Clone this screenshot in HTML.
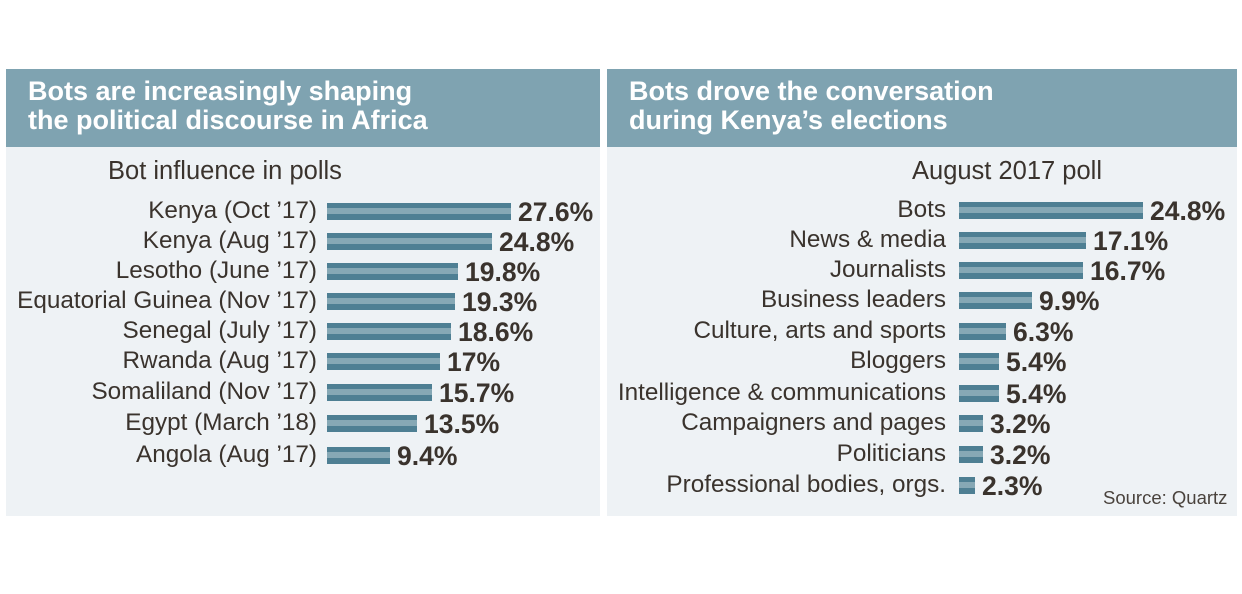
<!DOCTYPE html>
<html><head><meta charset="utf-8"><style>
*{margin:0;padding:0;box-sizing:border-box}
body{width:1242px;height:594px;background:#fff;position:relative;font-family:"Liberation Sans",sans-serif;color:#3a332d;overflow:hidden}
.panel{position:absolute;top:69px;height:447px;background:#eef2f5}
.hdr{position:absolute;left:0;right:0;top:0;height:78px;background:#7fa3b1;color:#fff;font-weight:bold;font-size:27px;line-height:29px;padding:8px 0 0 22px}
.sub{position:absolute;font-size:25.5px}
.lab{position:absolute;font-size:24.3px;text-align:right;white-space:nowrap;line-height:24px}
.bar{position:absolute;height:17px;background:linear-gradient(#4e7f93 0,#4e7f93 5px,#86a8b5 5px,#86a8b5 11px,#4e7f93 11px)}
.val{position:absolute;font-size:26.5px;font-weight:bold;line-height:24px;white-space:nowrap}
</style></head><body>
<div class="panel" style="left:6px;width:594px">
<div class="hdr">Bots are increasingly shaping<br>the political discourse in Africa</div>
</div>
<div class="panel" style="left:607px;width:630px">
<div class="hdr">Bots drove the conversation<br>during Kenya’s elections</div>
</div>
<div class="sub" style="left:108px;top:157px">Bot influence in polls</div>
<div class="sub" style="left:912px;top:157px">August 2017 poll</div>

<!-- left -->
<div class="lab" style="right:925px;top:199px">Kenya (Oct ’17)</div><div class="bar" style="left:327px;top:203px;width:184px"></div><div class="val" style="left:518px;top:200px">27.6%</div>
<div class="lab" style="right:925px;top:229px">Kenya (Aug ’17)</div><div class="bar" style="left:327px;top:233px;width:165px"></div><div class="val" style="left:499px;top:230px">24.8%</div>
<div class="lab" style="right:925px;top:259px">Lesotho (June ’17)</div><div class="bar" style="left:327px;top:263px;width:131px"></div><div class="val" style="left:465px;top:260px">19.8%</div>
<div class="lab" style="right:925px;top:289px">Equatorial Guinea (Nov ’17)</div><div class="bar" style="left:327px;top:293px;width:128px"></div><div class="val" style="left:462px;top:290px">19.3%</div>
<div class="lab" style="right:925px;top:319px">Senegal (July ’17)</div><div class="bar" style="left:327px;top:323px;width:124px"></div><div class="val" style="left:458px;top:320px">18.6%</div>
<div class="lab" style="right:925px;top:349px">Rwanda (Aug ’17)</div><div class="bar" style="left:327px;top:353px;width:113px"></div><div class="val" style="left:447px;top:350px">17%</div>
<div class="lab" style="right:925px;top:380px">Somaliland (Nov ’17)</div><div class="bar" style="left:327px;top:384px;width:105px"></div><div class="val" style="left:439px;top:381px">15.7%</div>
<div class="lab" style="right:925px;top:411px">Egypt (March ’18)</div><div class="bar" style="left:327px;top:415px;width:90px"></div><div class="val" style="left:424px;top:412px">13.5%</div>
<div class="lab" style="right:925px;top:443px">Angola (Aug ’17)</div><div class="bar" style="left:327px;top:447px;width:63px"></div><div class="val" style="left:397px;top:444px">9.4%</div>

<!-- right -->
<div class="lab" style="right:296px;top:198px">Bots</div><div class="bar" style="left:959px;top:202px;width:184px"></div><div class="val" style="left:1150px;top:199px">24.8%</div>
<div class="lab" style="right:296px;top:228px">News &amp; media</div><div class="bar" style="left:959px;top:232px;width:127px"></div><div class="val" style="left:1093px;top:229px">17.1%</div>
<div class="lab" style="right:296px;top:258px">Journalists</div><div class="bar" style="left:959px;top:262px;width:124px"></div><div class="val" style="left:1090px;top:259px">16.7%</div>
<div class="lab" style="right:296px;top:288px">Business leaders</div><div class="bar" style="left:959px;top:292px;width:73px"></div><div class="val" style="left:1039px;top:289px">9.9%</div>
<div class="lab" style="right:296px;top:319px">Culture, arts and sports</div><div class="bar" style="left:959px;top:323px;width:47px"></div><div class="val" style="left:1013px;top:320px">6.3%</div>
<div class="lab" style="right:296px;top:349px">Bloggers</div><div class="bar" style="left:959px;top:353px;width:40px"></div><div class="val" style="left:1006px;top:350px">5.4%</div>
<div class="lab" style="right:296px;top:381px">Intelligence &amp; communications</div><div class="bar" style="left:959px;top:385px;width:40px"></div><div class="val" style="left:1006px;top:382px">5.4%</div>
<div class="lab" style="right:296px;top:411px">Campaigners and pages</div><div class="bar" style="left:959px;top:415px;width:24px"></div><div class="val" style="left:990px;top:412px">3.2%</div>
<div class="lab" style="right:296px;top:442px">Politicians</div><div class="bar" style="left:959px;top:446px;width:24px"></div><div class="val" style="left:990px;top:443px">3.2%</div>
<div class="lab" style="right:296px;top:473px">Professional bodies, orgs.</div><div class="bar" style="left:959px;top:477px;width:16px"></div><div class="val" style="left:982px;top:474px">2.3%</div>
<div style="position:absolute;left:1103px;top:487px;font-size:18.5px;color:#4a433d">Source: Quartz</div>
</body></html>
